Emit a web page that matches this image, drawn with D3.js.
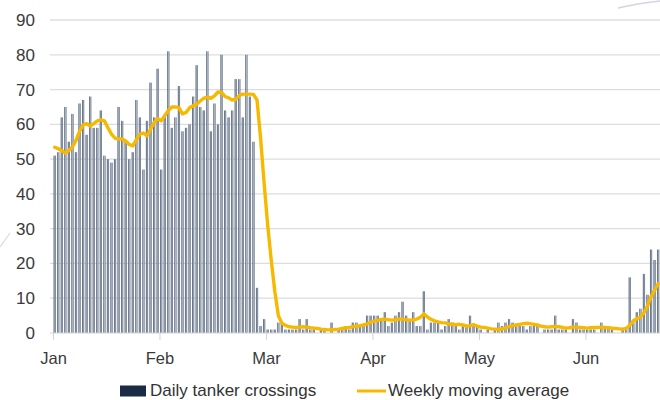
<!DOCTYPE html>
<html><head><meta charset="utf-8">
<script src="https://cdn.jsdelivr.net/npm/d3@7"></script>
<style>body{margin:0;background:#fff;} text{font-family:"Liberation Sans",Arial,sans-serif;}</style>
</head><body><svg id="c" width="660" height="400"></svg>
<script>
const monthLabels = ["Jan","Feb","Mar","Apr","May","Jun"];
const monthTickDays = [0,30,60,90,120,150];
const yTickValues = [0,10,20,30,40,50,60,70,80,90];
const seriesNames = ["Daily tanker crossings","Weekly moving average"];
const dailyCrossings = [
 51,52,62,65,55,63,52,66,67,57,
 68,59,59,64,51,50,49,50,65,61,
 55,50,52,67,62,47,61,72,62,76,
 47,62,81,59,62,71,58,59,60,68,
 77,65,64,81,58,66,60,80,64,62,
 64,73,73,62,80,68,55,13,2,4,
 1,1,1,3,3,1,1,1,1,4,
 1,4,1,1,0,1,1,0,3,0,
 1,1,2,1,3,3,2,2,5,5,
 5,5,4,6,2,3,5,6,9,5,
 4,6,2,2,12,1,3,3,3,1,
 2,4,3,2,1,2,2,5,2,2,
 1,0,1,0,1,3,2,3,4,3,
 2,2,2,1,2,2,2,0,1,1,
 1,5,1,1,1,0,4,3,1,1,
 1,1,1,0,3,2,2,1,0,0,
 1,1,16,3,6,7,17,11,24,21,
 24];
const weeklyAverage = [
 53.4,53,52.4,51.7,52.5,53.5,55.4,58,59.8,60.2,
 59.5,60.2,61,61.3,61,59,57.2,56,55.8,55.8,
 55.2,54.2,53.8,55.6,57.2,57.5,56.7,58.6,60.5,61.7,
 61,62.5,64,65,65,64.8,63,63.4,64.8,65.3,
 65.8,66.7,67.5,67.8,67.5,68.2,69.3,69.2,68,67.6,
 67,67.2,68.3,68.7,68.7,68.7,68.6,67,56,43,
 31,21,12,5,2.8,2.2,1.8,1.7,1.6,1.7,
 1.8,1.7,1.5,1.4,1.3,1.1,1,0.9,0.9,1,
 1.1,1.3,1.5,1.6,1.8,2,2.1,2.3,2.6,3.1,
 3.4,3.6,3.9,4,3.8,3.7,3.8,4,4,3.8,
 3.7,3.8,4,4.5,5.5,4.6,3.9,3.5,3.2,3,
 2.9,2.6,2.5,2.4,2.5,2.3,2,2.1,2.4,2,
 1.7,1.6,1.4,1.2,1.1,1,1.2,1.5,1.8,2.1,
 2.3,2.5,2.7,2.8,2.7,2.5,2.3,2,1.8,1.7,
 1.8,1.9,1.8,1.6,1.4,1.5,1.7,1.7,1.6,1.5,
 1.4,1.5,1.6,1.6,1.7,1.6,1.5,1.4,1.3,1.2,
 1.1,1.3,2.2,3.5,4.1,4.6,5.8,7.8,10.5,12.3,
 14.2];

const svg = d3.select("#c");
const x = d3.scaleLinear().domain([0, 171]).range([53, 660]);
const y = d3.scaleLinear().domain([0, 90]).range([333, 20]);
const barW = 2.2, barOff = 0.6;
const fontFam = "'Liberation Sans',Arial,sans-serif";

const defs = svg.append("defs");
const g = defs.append("linearGradient").attr("id","barGrad").attr("x1","0").attr("x2","1").attr("y1","0").attr("y2","0");
g.append("stop").attr("offset","0").attr("stop-color","#3e4e66");
g.append("stop").attr("offset","0.55").attr("stop-color","#aab4c2");
g.append("stop").attr("offset","1").attr("stop-color","#4a5a72");

// faint background strokes seen in the reference
svg.append("path").attr("d","M618,8 Q640,3 660,1").attr("fill","none").attr("stroke","#c5ccd6").attr("stroke-width",1.5).attr("opacity",0.8);
svg.append("path").attr("d","M0,247 L10,233").attr("fill","none").attr("stroke","#d5dae1").attr("stroke-width",1.2);

// gridlines
svg.append("g").selectAll("line").data(yTickValues.filter(d=>d>0)).join("line")
  .attr("x1", 50).attr("x2", 660).attr("y1", d=>y(d)).attr("y2", d=>y(d))
  .attr("stroke", "#dddddd").attr("stroke-width", 1.3);

// y axis labels
const ya = svg.append("g").attr("transform","translate(50,0)")
  .call(d3.axisLeft(y).tickValues(yTickValues).tickSize(0).tickPadding(15));
ya.select(".domain").remove();
ya.selectAll("text").attr("font-size",17).attr("fill","#3a3a3a").style("font-family",fontFam);

// bars
svg.append("g").selectAll("rect").data(dailyCrossings).join("rect")
  .attr("x", (d,i)=>x(i)+barOff).attr("width", barW)
  .attr("y", d=>y(d)).attr("height", d=>y(0)-y(d))
  .attr("fill", "url(#barGrad)");

// x axis
const xa = svg.append("g").attr("transform",`translate(0,${y(0)})`)
  .call(d3.axisBottom(x).tickValues(monthTickDays).tickFormat((d,i)=>monthLabels[i]).tickSize(7).tickPadding(12));
xa.select(".domain").attr("stroke","#d3d3d3").attr("d", `M50,0H660`);
xa.selectAll(".tick line").attr("stroke","#d3d3d3");
xa.selectAll("text").attr("font-size",16.5).attr("fill","#3a3a3a").style("font-family",fontFam);

// moving average line
const line = d3.line().x((d,i)=>x(i)+barOff+barW/2).y(d=>y(d));
svg.append("path").datum(weeklyAverage).attr("d", line)
  .attr("fill","none").attr("stroke","#f7b900").attr("stroke-width",3.4)
  .attr("stroke-linejoin","round").attr("stroke-linecap","round");

// legend
const lg = svg.append("g");
lg.append("rect").attr("x",120).attr("y",385.5).attr("width",26).attr("height",11).attr("fill","#1b2b45");
lg.append("text").attr("x",150).attr("y",396).attr("font-size",17).attr("fill","#333").style("font-family",fontFam).text(seriesNames[0]);
lg.append("line").attr("x1",357).attr("x2",386).attr("y1",391).attr("y2",391).attr("stroke","#f7b900").attr("stroke-width",3);
lg.append("text").attr("x",388).attr("y",396).attr("font-size",17).attr("fill","#333").style("font-family",fontFam).text(seriesNames[1]);
</script></body></html>
